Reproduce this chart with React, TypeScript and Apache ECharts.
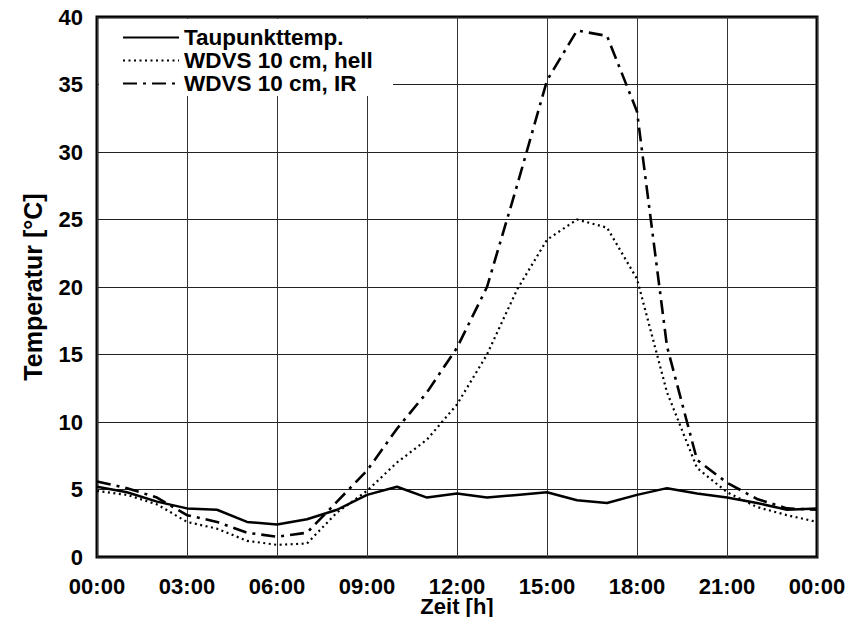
import React, { useEffect, useRef } from "react";
import * as echarts from "echarts";

const hours = [0, 1, 2, 3, 4, 5, 6, 7, 8, 9, 10, 11, 12, 13, 14, 15, 16, 17, 18, 19, 20, 21, 22, 23, 24];
const taupunkt = [5.2, 4.8, 4.1, 3.6, 3.5, 2.6, 2.4, 2.8, 3.5, 4.6, 5.2, 4.4, 4.7, 4.4, 4.6, 4.8, 4.2, 4.0, 4.6, 5.1, 4.7, 4.4, 4.0, 3.5, 3.6];
const hell = [4.9, 4.6, 3.9, 2.6, 2.1, 1.2, 0.9, 1.0, 3.3, 4.9, 7.0, 8.7, 11.3, 15.0, 19.8, 23.5, 25.0, 24.4, 20.6, 12.2, 6.6, 4.8, 3.7, 3.1, 2.6];
const ir = [5.6, 5.1, 4.4, 3.1, 2.6, 1.8, 1.5, 1.8, 4.1, 6.4, 9.5, 12.2, 15.5, 20.0, 27.5, 35.3, 39.0, 38.6, 33.0, 15.6, 7.2, 5.5, 4.3, 3.6, 3.5];
const seriesNames = ["Taupunkttemp.", "WDVS 10 cm, hell", "WDVS 10 cm, IR"];
const xTitle = "Zeit [h]";
const yTitle = "Temperatur [°C]";

const FONT = "Liberation Sans, Arial, sans-serif";

function pairs(vals: number[]) {
  return hours.map((h, i) => [h, vals[i]]);
}

export default function App() {
  const ref = useRef<HTMLDivElement>(null);
  useEffect(() => {
    if (!ref.current) return;
    const chart = echarts.init(ref.current, null, { renderer: "svg" });
    const labelStyle = { color: "#000", fontFamily: FONT, fontWeight: "bold" as const, fontSize: 22 };
    chart.setOption({
      animation: false,
      backgroundColor: "#fff",
      grid: {
        left: 97, right: 29, top: 17, bottom: 60,
        containLabel: false,
        outerBoundsMode: "none",
        show: true, borderWidth: 3, borderColor: "#000", backgroundColor: "transparent",
      },
      graphic: [
        { type: "rect", z: 1, shape: { x: 99, y: 19, width: 294, height: 77 }, style: { fill: "#fff" } },
      ],
      legend: {
        orient: "vertical",
        left: 122,
        top: 26,
        padding: 0,
        itemWidth: 56,
        itemHeight: 14,
        itemGap: 0,
        z: 5,
        itemStyle: { opacity: 0 },
        textStyle: { ...labelStyle, fontSize: 22.5, lineHeight: 23 },
        data: seriesNames,
      },
      xAxis: {
        type: "value",
        min: 0,
        max: 24,
        interval: 3,
        name: xTitle,
        nameLocation: "middle",
        nameGap: 49,
        nameMoveOverlap: false,
        nameTextStyle: { ...labelStyle, verticalAlign: "middle", lineHeight: 16 },
        axisLine: { show: false },
        axisTick: { show: false },
        axisLabel: {
          ...labelStyle,
          lineHeight: 16,
          margin: 21,
          formatter: (v: number) => String(v % 24).padStart(2, "0") + ":00",
        },
        splitLine: { show: true, lineStyle: { color: "#333", width: 1 } },
      },
      yAxis: {
        type: "value",
        min: 0,
        max: 40,
        interval: 5,
        name: yTitle,
        nameLocation: "middle",
        nameGap: 52,
        nameTextStyle: { ...labelStyle, fontSize: 25 },
        axisLine: { show: false },
        axisTick: { show: false },
        axisLabel: { ...labelStyle, margin: 14 },
        splitLine: { show: true, lineStyle: { color: "#222", width: 1 } },
      },
      series: [
        {
          name: seriesNames[0],
          type: "line",
          data: pairs(taupunkt),
          symbol: "none",
          z: 3,
          lineStyle: { color: "#000", width: 2.5, type: "solid" },
          itemStyle: { color: "#000" },
        },
        {
          name: seriesNames[1],
          type: "line",
          data: pairs(hell),
          symbol: "none",
          z: 3,
          lineStyle: { color: "#000", width: 2.2, type: [2, 3.5] },
          itemStyle: { color: "#000" },
        },
        {
          name: seriesNames[2],
          type: "line",
          data: pairs(ir),
          symbol: "none",
          z: 3,
          lineStyle: { color: "#000", width: 2.6, type: [14, 6, 3, 6] },
          itemStyle: { color: "#000" },
        },
      ],
    });
    return () => chart.dispose();
  }, []);
  return <div ref={ref} style={{ width: 846, height: 617, position: "absolute", left: 0, top: 0 }} />;
}
